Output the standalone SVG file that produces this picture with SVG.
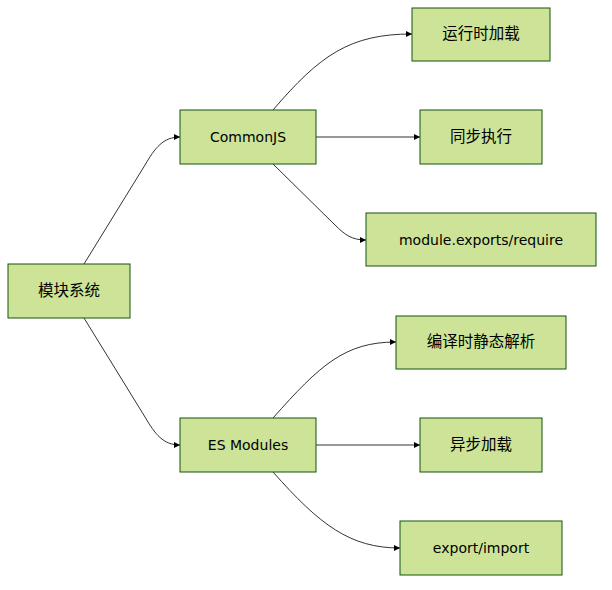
<svg xmlns="http://www.w3.org/2000/svg" width="612" height="590" viewBox="0 0 612 590">
<defs>
<style>
.node rect{fill:#cde498;stroke:#13540c;stroke-width:1}
.node text{font-family:"DejaVu Sans","Noto Sans CJK SC",sans-serif;font-size:14px;fill:#000;text-anchor:middle;dominant-baseline:central}
.node text.cjk{font-size:15.5px}
.edges path{fill:none;stroke:#333;stroke-width:1;marker-end:url(#arr)}
</style>
<marker id="arr" viewBox="0 0 10 10" refX="10" refY="5" markerWidth="6" markerHeight="6" markerUnits="userSpaceOnUse" orient="auto">
<path d="M0,0 L10,5 L0,10 z" fill="#000"/>
</marker>
</defs>
<rect width="612" height="590" fill="#fff"/>
<g class="edges">
<path d="M84,264 L145,165 C155,148 163,137 180,137"/>
<path d="M84,318 L145,417 C155,434 163,445 180,445"/>
<path d="M273,110 C320,55 350,34 412,34"/>
<path d="M316,137 L420,137"/>
<path d="M273,164 L335,225 C345,235 352,240 366,240"/>
<path d="M273,418 C320,365 345,342 396,342"/>
<path d="M316,445 L420,445"/>
<path d="M273,472 C320,525 350,548 400,548"/>
</g>
<g class="node" id="root"><rect x="8" y="264" width="122" height="54"/><text class="cjk" x="69" y="291">模块系统</text></g>
<g class="node" id="cjs"><rect x="180" y="110" width="136" height="54"/><text x="248" y="137">CommonJS</text></g>
<g class="node" id="esm"><rect x="180" y="418" width="136" height="54"/><text x="248" y="445">ES Modules</text></g>
<g class="node" id="cjs1"><rect x="412" y="8" width="138" height="53"/><text class="cjk" x="481" y="34">运行时加载</text></g>
<g class="node" id="cjs2"><rect x="420" y="110" width="122" height="54"/><text class="cjk" x="481" y="137">同步执行</text></g>
<g class="node" id="cjs3"><rect x="366" y="213" width="230" height="53"/><text x="481" y="240">module.exports/require</text></g>
<g class="node" id="esm1"><rect x="396" y="316" width="170" height="53"/><text class="cjk" x="481" y="342">编译时静态解析</text></g>
<g class="node" id="esm2"><rect x="420" y="418" width="122" height="54"/><text class="cjk" x="481" y="445">异步加载</text></g>
<g class="node" id="esm3"><rect x="400" y="521" width="162" height="54"/><text x="481" y="548">export/import</text></g>
</svg>
